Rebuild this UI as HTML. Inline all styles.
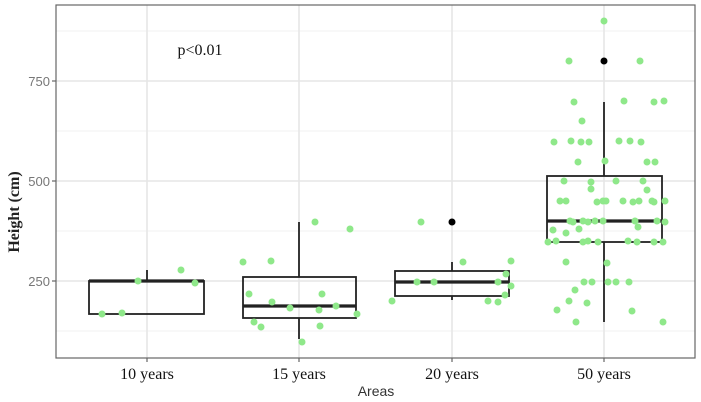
<!DOCTYPE html><html><head><style>body{margin:0;background:#fff}svg{display:block}</style></head><body>
<svg width="701" height="402" xmlns="http://www.w3.org/2000/svg">
<rect x="0" y="0" width="701" height="402" fill="#fff"/>
<g stroke="#ebebeb" stroke-width="0.8">
<line x1="56" x2="695" y1="31" y2="31"/><line x1="56" x2="695" y1="131" y2="131"/><line x1="56" x2="695" y1="231" y2="231"/><line x1="56" x2="695" y1="331" y2="331"/>
</g>
<g stroke="#e6e6e6" stroke-width="1.6">
<line x1="56" x2="695" y1="81" y2="81"/><line x1="56" x2="695" y1="181" y2="181"/><line x1="56" x2="695" y1="281" y2="281"/>
<line y1="5" y2="358" x1="147" x2="147"/><line y1="5" y2="358" x1="299" x2="299"/><line y1="5" y2="358" x1="452" x2="452"/><line y1="5" y2="358" x1="604" x2="604"/>
</g>
<g stroke="#222" stroke-width="1.8" fill="none">
<line x1="147" x2="147" y1="270" y2="281"/>
<rect x="89" y="281" width="115" height="33"/>
<line x1="89" x2="204" y1="281" y2="281" stroke-width="3.2"/>
<line x1="299" x2="299" y1="222" y2="277"/><line x1="299" x2="299" y1="318" y2="339"/>
<rect x="243" y="277" width="113" height="41"/>
<line x1="243" x2="356" y1="306" y2="306" stroke-width="3.2"/>
<line x1="452" x2="452" y1="262" y2="271"/><line x1="452" x2="452" y1="296" y2="300"/>
<rect x="395" y="271" width="114" height="25"/>
<line x1="395" x2="509" y1="282" y2="282" stroke-width="3.2"/>
<line x1="604" x2="604" y1="102" y2="176"/><line x1="604" x2="604" y1="242" y2="322"/>
<rect x="547" y="176" width="115" height="66"/>
<line x1="547" x2="662" y1="221" y2="221" stroke-width="3.2"/>
</g>
<g fill="#000"><circle cx="452" cy="222" r="3.5"/><circle cx="604" cy="61" r="3.5"/></g>
<g fill="#8fe88a">
<circle cx="102" cy="314" r="3.5"/><circle cx="122" cy="313" r="3.5"/><circle cx="138" cy="281" r="3.5"/><circle cx="181" cy="270" r="3.5"/><circle cx="195" cy="283" r="3.5"/>
<circle cx="243" cy="262" r="3.5"/><circle cx="271" cy="261" r="3.5"/><circle cx="315" cy="222" r="3.5"/><circle cx="350" cy="229" r="3.5"/><circle cx="249" cy="294" r="3.5"/><circle cx="272" cy="302" r="3.5"/><circle cx="322" cy="294" r="3.5"/><circle cx="290" cy="308" r="3.5"/><circle cx="319" cy="310" r="3.5"/><circle cx="336" cy="306" r="3.5"/><circle cx="357" cy="314" r="3.5"/><circle cx="254" cy="322" r="3.5"/><circle cx="261" cy="327" r="3.5"/><circle cx="320" cy="326" r="3.5"/><circle cx="302" cy="342" r="3.5"/>
<circle cx="421" cy="222" r="3.5"/><circle cx="463" cy="262" r="3.5"/><circle cx="511" cy="261" r="3.5"/><circle cx="417" cy="282" r="3.5"/><circle cx="434" cy="282" r="3.5"/><circle cx="498" cy="282" r="3.5"/><circle cx="506" cy="274" r="3.5"/><circle cx="511" cy="286" r="3.5"/><circle cx="392" cy="301" r="3.5"/><circle cx="488" cy="301" r="3.5"/><circle cx="498" cy="302" r="3.5"/><circle cx="505" cy="295" r="3.5"/>
<circle cx="604" cy="21" r="3.5"/><circle cx="569" cy="61" r="3.5"/><circle cx="640" cy="61" r="3.5"/>
<circle cx="574" cy="102" r="3.5"/><circle cx="624" cy="101" r="3.5"/><circle cx="654" cy="102" r="3.5"/><circle cx="664" cy="101" r="3.5"/><circle cx="582" cy="121" r="3.5"/>
<circle cx="554" cy="142" r="3.5"/><circle cx="571" cy="141" r="3.5"/><circle cx="581" cy="142" r="3.5"/><circle cx="589" cy="142" r="3.5"/><circle cx="619" cy="141" r="3.5"/><circle cx="630" cy="141" r="3.5"/><circle cx="641" cy="142" r="3.5"/>
<circle cx="578" cy="162" r="3.5"/><circle cx="605" cy="161" r="3.5"/><circle cx="647" cy="162" r="3.5"/><circle cx="655" cy="162" r="3.5"/>
<circle cx="564" cy="181" r="3.5"/><circle cx="591" cy="182" r="3.5"/><circle cx="616" cy="181" r="3.5"/><circle cx="643" cy="181" r="3.5"/><circle cx="591" cy="189" r="3.5"/><circle cx="647" cy="190" r="3.5"/>
<circle cx="560" cy="201" r="3.5"/><circle cx="566" cy="201" r="3.5"/><circle cx="597" cy="202" r="3.5"/><circle cx="603" cy="201" r="3.5"/><circle cx="606" cy="201" r="3.5"/><circle cx="623" cy="201" r="3.5"/><circle cx="633" cy="202" r="3.5"/><circle cx="639" cy="201" r="3.5"/><circle cx="652" cy="201" r="3.5"/><circle cx="654" cy="202" r="3.5"/><circle cx="665" cy="201" r="3.5"/>
<circle cx="570" cy="221" r="3.5"/><circle cx="573" cy="222" r="3.5"/><circle cx="583" cy="221" r="3.5"/><circle cx="588" cy="222" r="3.5"/><circle cx="595" cy="221" r="3.5"/><circle cx="603" cy="221" r="3.5"/><circle cx="635" cy="221" r="3.5"/><circle cx="638" cy="227" r="3.5"/><circle cx="657" cy="221" r="3.5"/><circle cx="665" cy="222" r="3.5"/>
<circle cx="553" cy="230" r="3.5"/><circle cx="566" cy="233" r="3.5"/><circle cx="579" cy="229" r="3.5"/>
<circle cx="548" cy="242" r="3.5"/><circle cx="556" cy="241" r="3.5"/><circle cx="583" cy="242" r="3.5"/><circle cx="588" cy="241" r="3.5"/><circle cx="598" cy="242" r="3.5"/><circle cx="628" cy="241" r="3.5"/><circle cx="637" cy="242" r="3.5"/><circle cx="654" cy="242" r="3.5"/><circle cx="663" cy="242" r="3.5"/>
<circle cx="566" cy="262" r="3.5"/><circle cx="607" cy="263" r="3.5"/>
<circle cx="584" cy="282" r="3.5"/><circle cx="592" cy="282" r="3.5"/><circle cx="608" cy="282" r="3.5"/><circle cx="616" cy="282" r="3.5"/><circle cx="629" cy="282" r="3.5"/>
<circle cx="575" cy="290" r="3.5"/><circle cx="569" cy="301" r="3.5"/><circle cx="587" cy="303" r="3.5"/><circle cx="557" cy="310" r="3.5"/><circle cx="632" cy="311" r="3.5"/><circle cx="576" cy="322" r="3.5"/><circle cx="663" cy="322" r="3.5"/>
</g>
<rect x="56" y="5" width="639" height="353" fill="none" stroke="#666" stroke-width="1.2"/>
<g stroke="#666" stroke-width="1.2">
<line x1="52" x2="56" y1="81" y2="81"/><line x1="52" x2="56" y1="181" y2="181"/><line x1="52" x2="56" y1="281" y2="281"/>
<line y1="358" y2="362" x1="147" x2="147"/><line y1="358" y2="362" x1="299" x2="299"/><line y1="358" y2="362" x1="452" x2="452"/><line y1="358" y2="362" x1="604" x2="604"/>
</g>
<g font-family="Liberation Sans, sans-serif" font-size="13" fill="#777" text-anchor="end">
<text x="50" y="86">750</text><text x="50" y="186">500</text><text x="50" y="286">250</text>
</g>
<g font-family="Liberation Serif, serif" font-size="16" fill="#111" text-anchor="middle">
<text x="147" y="379">10 years</text><text x="299" y="379">15 years</text><text x="452" y="379">20 years</text><text x="604" y="379">50 years</text>
</g>
<text x="200" y="55" font-family="Liberation Serif, serif" font-size="16" fill="#111" text-anchor="middle">p&lt;0.01</text>
<text x="376" y="396" font-family="Liberation Sans, sans-serif" font-size="14" fill="#333" text-anchor="middle">Areas</text>
<text transform="translate(19,212) rotate(-90)" font-family="Liberation Serif, serif" font-size="16" font-weight="bold" fill="#222" text-anchor="middle">Height (cm)</text>
</svg>
</body></html>
